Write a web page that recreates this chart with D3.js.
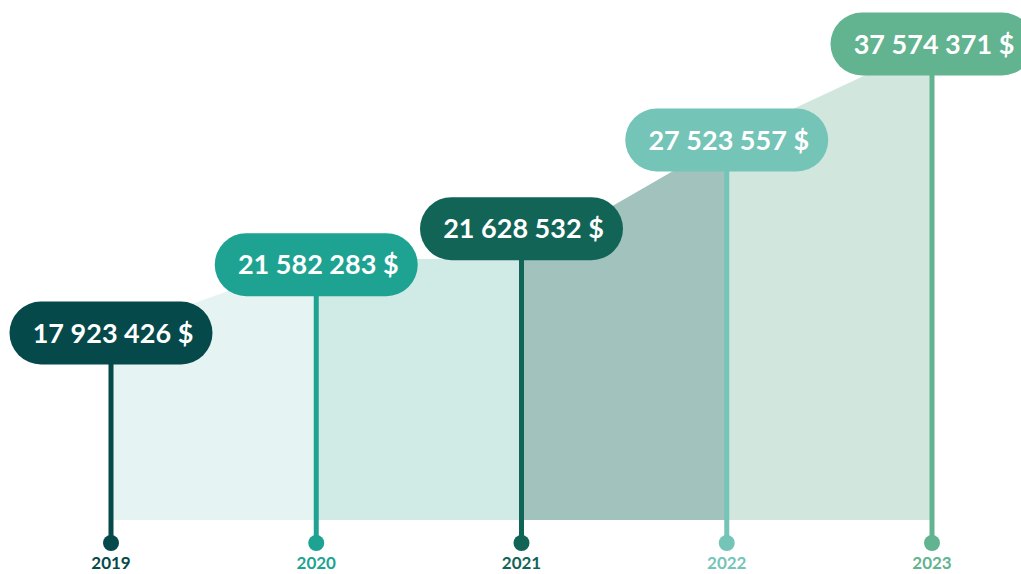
<!DOCTYPE html>
<html lang="en">
<head>
    <meta charset="UTF-8">
    <title>Revenue by year</title>
    <style>
        body { margin: 0; background: #fff; }
        svg { display: block; font-family: Lato, "Open Sans", sans-serif; }
    </style>
</head>
<body>
    <svg id="chart" width="1021" height="574"></svg>

    <script src="https://d3js.org/d3.v7.min.js"></script>
    <script>
        const years = ["2019", "2020", "2021", "2022", "2023"];
        const amounts = [17923426, 21582283, 21628532, 27523557, 37574371];
        const yearColors = ["#05494a", "#1ea392", "#126457", "#74c4b8", "#62b390"];
        const segmentColors = ["#e5f3f2", "#d0eae5", "#a2c3bd", "#d1e7de"];

        const baseY = 520;
        const dotY = 543;
        const pillW = 203;
        const pillH = 63;

        const svg = d3.select("#chart");

        const x = d3.scalePoint()
            .domain(years)
            .range([111, 932]);

        // value scale; the last year is clamped to the top of the chart
        const y = d3.scaleLinear()
            .domain([8.62e6, 32.3e6])
            .range([baseY, 44])
            .clamp(true);

        const data = years.map((yr, i) => ({ year: yr, value: amounts[i], color: yearColors[i] }));

        // label positions: on the line, pushed apart when two are too close
        const minGap = 36;
        data.forEach((d) => d.ly = y(d.value));
        for (let i = 1; i < data.length; i++) {
            const gap = data[i - 1].ly - data[i].ly;
            if (gap < minGap) {
                const shift = minGap - gap;
                data[i - 1].ly += shift * 0.15;
                data[i].ly -= shift * 0.85;
            }
        }

        const area = d3.area()
            .x((d) => x(d.year))
            .y0(baseY)
            .y1((d) => y(d.value));

        // one area piece per pair of years
        svg.append("g")
            .selectAll("path")
            .data(d3.pairs(data))
            .join("path")
            .attr("d", (p) => area(p))
            .attr("fill", (p, i) => segmentColors[i]);

        const fmt = d3.formatLocale({ decimal: ",", thousands: " ", grouping: [3], currency: ["", " $"] }).format(",");

        const item = svg.append("g")
            .selectAll("g")
            .data(data)
            .join("g");

        item.append("line")
            .attr("x1", (d) => x(d.year))
            .attr("x2", (d) => x(d.year))
            .attr("y1", (d) => d.ly)
            .attr("y2", dotY)
            .attr("stroke", (d) => d.color)
            .attr("stroke-width", 5);

        item.append("circle")
            .attr("cx", (d) => x(d.year))
            .attr("cy", dotY)
            .attr("r", 8)
            .attr("fill", (d) => d.color);

        item.append("rect")
            .attr("x", (d) => x(d.year) - pillW / 2)
            .attr("y", (d) => d.ly - pillH / 2)
            .attr("width", pillW)
            .attr("height", pillH)
            .attr("rx", pillH / 2)
            .attr("fill", (d) => d.color);

        item.append("text")
            .attr("x", (d) => x(d.year) + 2)
            .attr("y", (d) => d.ly)
            .attr("dy", "0.36em")
            .attr("text-anchor", "middle")
            .attr("fill", "#fff")
            .attr("font-size", 27)
            .attr("font-weight", 700)
            .text((d) => fmt(d.value) + " $");

        item.append("text")
            .attr("x", (d) => x(d.year))
            .attr("y", 569)
            .attr("text-anchor", "middle")
            .attr("fill", (d) => d.color)
            .attr("font-size", 17)
            .attr("font-weight", 700)
            .text((d) => d.year);
    </script>
</body>
</html>
